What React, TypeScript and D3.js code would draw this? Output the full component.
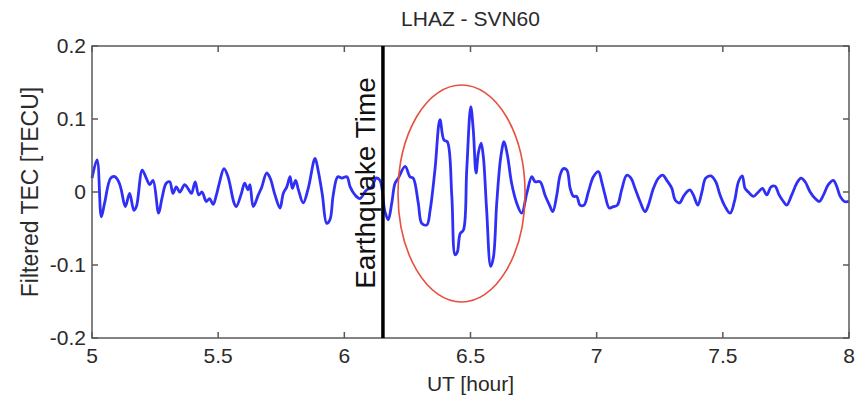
import React from "react";
import * as d3 from "d3";

const title = "LHAZ - SVN60";
const xLabel = "UT [hour]";
const yLabel = "Filtered TEC [TECU]";
const markerLabel = "Earthquake Time";
const earthquakeTime = 6.153;
const xTicks = [5, 5.5, 6, 6.5, 7, 7.5, 8];
const yTicks = [0.2, 0.1, 0, -0.1, -0.2];
const xDomain = [5, 8];
const yDomain = [-0.2, 0.2];

const hours = [
  5.0, 5.02, 5.037, 5.05, 5.074, 5.09, 5.106, 5.116, 5.132, 5.149, 5.166, 5.176, 5.199, 5.215, 5.229, 5.242,
  5.264, 5.277, 5.294, 5.308, 5.321, 5.334, 5.348, 5.367, 5.38, 5.394, 5.409, 5.423, 5.436, 5.453, 5.466, 5.48,
  5.493, 5.506, 5.523, 5.539, 5.563, 5.572, 5.592, 5.605, 5.618, 5.626, 5.639, 5.659, 5.673, 5.692, 5.706, 5.725,
  5.745, 5.758, 5.772, 5.785, 5.794, 5.807, 5.818, 5.837, 5.857, 5.884, 5.897, 5.913, 5.93, 5.943, 5.956, 5.974,
  5.99, 6.01, 6.023, 6.042, 6.062, 6.086, 6.109, 6.126, 6.141, 6.161, 6.174, 6.188, 6.201, 6.214, 6.241, 6.26,
  6.273, 6.293, 6.307, 6.327, 6.34, 6.359, 6.379, 6.395, 6.408, 6.426, 6.439, 6.448, 6.459, 6.472, 6.485, 6.501,
  6.511, 6.522, 6.531, 6.542, 6.551, 6.564, 6.58, 6.591, 6.604, 6.62, 6.633, 6.646, 6.663, 6.683, 6.703, 6.723,
  6.743, 6.756, 6.776, 6.795, 6.813, 6.826, 6.842, 6.855, 6.868, 6.882, 6.895, 6.908, 6.921, 6.934, 6.95, 6.967,
  6.987, 7.007, 7.02, 7.033, 7.05, 7.066, 7.082, 7.099, 7.119, 7.136, 7.152, 7.172, 7.192, 7.205, 7.225, 7.245,
  7.262, 7.278, 7.298, 7.311, 7.328, 7.344, 7.357, 7.37, 7.383, 7.401, 7.417, 7.432, 7.453, 7.472, 7.489, 7.509,
  7.529, 7.546, 7.562, 7.577, 7.588, 7.601, 7.621, 7.641, 7.657, 7.674, 7.691, 7.707, 7.723, 7.74, 7.753, 7.773,
  7.793, 7.81, 7.826, 7.846, 7.866, 7.882, 7.899, 7.918, 7.938, 7.952, 7.965, 7.982, 8.0,
];

const tec = [
  0.019, 0.044, -0.034, -0.015, 0.019, 0.021, 0.014, 0.003, -0.02, -0.002, -0.025, -0.02, 0.03, 0.019, 0.01, 0.016,
  -0.029, -0.009, 0.012, 0.014, -0.002, 0.007, 0.0, 0.01, 0.005, -0.002, 0.014, -0.004, 0.0, -0.013, -0.009, -0.017,
  -0.004, 0.014, 0.032, 0.021, -0.015, -0.02, -0.002, 0.012, 0.003, 0.01, -0.02, -0.004, 0.007, 0.026, 0.019, -0.004,
  -0.022, -0.002, 0.007, 0.021, 0.005, 0.016, 0.003, -0.015, 0.005, 0.046, 0.028, -0.004, -0.043, -0.038, -0.004, 0.021,
  0.019, 0.021, 0.007, -0.004, -0.009, 0.002, 0.007, 0.019, 0.016, -0.027, -0.038, -0.015, 0.012, 0.019, 0.035, 0.021,
  0.019, -0.015, -0.043, -0.045, -0.025, 0.03, 0.099, 0.071, 0.069, -0.006, -0.086, -0.082, -0.057, -0.052, 0.03, 0.117,
  0.085, 0.026, 0.053, 0.067, 0.048, -0.025, -0.102, -0.089, -0.015, 0.048, 0.069, 0.051, 0.012, -0.015, -0.029, -0.002,
  0.021, 0.014, 0.014, -0.004, -0.018, -0.027, -0.004, 0.023, 0.032, 0.03, 0.005, -0.006, -0.006, -0.018, -0.018, 0.0,
  0.021, 0.028, 0.014, -0.004, -0.022, -0.02, -0.018, 0.003, 0.023, 0.019, 0.005, -0.013, -0.027, -0.018, 0.005, 0.019,
  0.023, 0.016, 0.005, -0.011, -0.015, -0.006, 0.0, 0.003, -0.004, -0.018, 0.0, 0.019, 0.022, 0.014, -0.004, -0.02,
  -0.029, -0.013, 0.014, 0.022, 0.005, 0.0, -0.006, 0.0, 0.005, -0.004, 0.007, 0.008, -0.004, -0.013, -0.018, -0.004,
  0.012, 0.019, 0.014, 0.0, -0.009, -0.013, -0.004, 0.01, 0.016, 0.007, -0.006, -0.013, -0.013,
];

const anomalyCenterHour = 6.4645;
const anomalyCenterTec = -0.002;
const anomalyHalfWidth = 0.2517;
const anomalyHalfHeight = 0.1486;

const W = 860;
const H = 400;
const M = { left: 92, right: 11, top: 46, bottom: 62 };
const FONT = "'Liberation Sans', Arial, Helvetica, sans-serif";
const AXIS = "#5a5a5a";
const TEXT = "#2a2a2a";

export default function App() {
  const x = d3.scaleLinear().domain(xDomain).range([M.left, W - M.right]);
  const y = d3.scaleLinear().domain(yDomain).range([H - M.bottom, M.top]);
  const pts = hours.map((h, i) => [h, tec[i]] as [number, number]);
  const line = d3
    .line<[number, number]>()
    .x((d) => x(d[0]))
    .y((d) => y(d[1]))
    .curve(d3.curveCatmullRom.alpha(0.5));
  const x0 = x.range()[0];
  const x1 = x.range()[1];
  const y0 = y.range()[1];
  const y1 = y.range()[0];
  const tickLen = 6;
  const eqX = x(earthquakeTime);
  const cx = x(anomalyCenterHour);
  const cy = y(anomalyCenterTec);
  const rx = x(anomalyCenterHour + anomalyHalfWidth) - cx;
  const ry = cy - y(anomalyCenterTec + anomalyHalfHeight);
  const midY = (y0 + y1) / 2;

  return (
    <svg
      width={W}
      height={H}
      style={{ position: "absolute", left: 0, top: 0, background: "#fff" }}
      fontFamily={FONT}
    >
      <rect x={0} y={0} width={W} height={H} fill="#fff" />
      <text x={(x0 + x1) / 2} y={26} textAnchor="middle" fontSize={21} fill={TEXT}>
        {title}
      </text>

      <path d={line(pts) || ""} fill="none" stroke="#2f2ff5" strokeWidth={2.8} strokeLinejoin="round" />

      <ellipse cx={cx} cy={cy} rx={rx} ry={ry} fill="none" stroke="#e5503f" strokeWidth={1.6} />

      <rect x={x0} y={y0} width={x1 - x0} height={y1 - y0} fill="none" stroke={AXIS} strokeWidth={1.5} />
      {xTicks.map((t) => (
        <g key={"xt" + t}>
          <line x1={x(t)} x2={x(t)} y1={y1} y2={y1 - tickLen} stroke={AXIS} strokeWidth={1.5} />
          <line x1={x(t)} x2={x(t)} y1={y0} y2={y0 + tickLen} stroke={AXIS} strokeWidth={1.5} />
          <text x={x(t)} y={y1 + 25} textAnchor="middle" fontSize={21} fill={TEXT}>
            {String(t)}
          </text>
        </g>
      ))}
      {yTicks.map((t) => (
        <g key={"yt" + t}>
          <line x1={x0} x2={x0 + tickLen} y1={y(t)} y2={y(t)} stroke={AXIS} strokeWidth={1.5} />
          <line x1={x1} x2={x1 - tickLen} y1={y(t)} y2={y(t)} stroke={AXIS} strokeWidth={1.5} />
          <text x={x0 - 6} y={y(t) + 7} textAnchor="end" fontSize={21} fill={TEXT}>
            {String(t)}
          </text>
        </g>
      ))}

      <line x1={eqX} x2={eqX} y1={y0} y2={y1} stroke="#000" strokeWidth={3.5} />
      <text
        transform={`translate(${eqX - 8},${183}) rotate(-90)`}
        textAnchor="middle"
        fontSize={28}
        fill="#111"
      >
        {markerLabel}
      </text>

      <text x={(x0 + x1) / 2} y={391} textAnchor="middle" fontSize={21} fill={TEXT}>
        {xLabel}
      </text>
      <text
        transform={`translate(${38},${midY}) rotate(-90)`}
        textAnchor="middle"
        fontSize={23}
        fill={TEXT}
      >
        {yLabel}
      </text>
    </svg>
  );
}
